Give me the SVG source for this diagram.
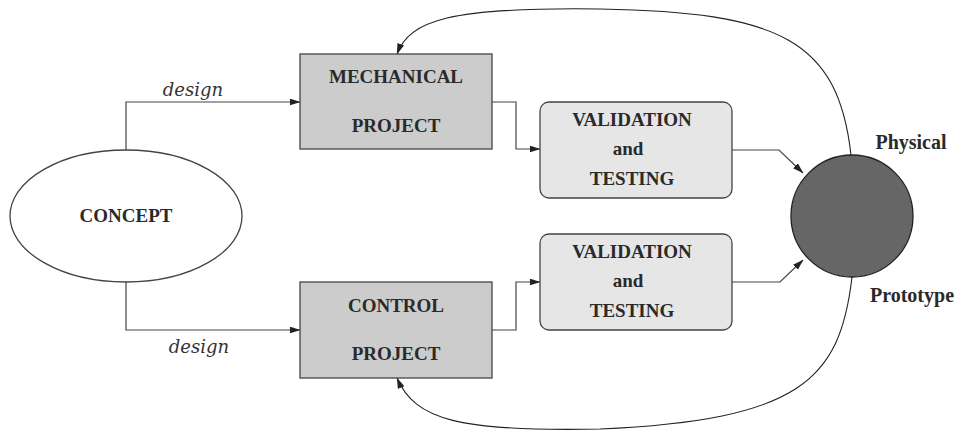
<svg xmlns="http://www.w3.org/2000/svg" width="959" height="434" viewBox="0 0 959 434">
<defs>
<marker id="ah" markerUnits="userSpaceOnUse" markerWidth="11" markerHeight="8" refX="10.5" refY="3.5" orient="auto">
<path d="M0,0 L11,3.5 L0,7 z" fill="#222"/>
</marker>
</defs>
<style>
.lbl{font-family:"Liberation Serif","Times New Roman",serif;font-weight:bold;font-size:19px;fill:#2a2a2a;text-anchor:middle}
.ital{font-family:"DejaVu Serif",serif;font-style:italic;font-size:18px;fill:#333;text-anchor:middle}
.box{stroke:#444;stroke-width:1.3}
.conn{fill:none;stroke:#444;stroke-width:1.2}
.curve{fill:none;stroke:#222;stroke-width:1.1}
</style>
<rect width="959" height="434" fill="#fff"/>
<g id="connectors">
<path class="conn" d="M126 150 V102 H300" marker-end="url(#ah)"/>
<path class="conn" d="M126 282 V330 H300" marker-end="url(#ah)"/>
<path class="conn" d="M492 102 H516 V149 H540" marker-end="url(#ah)"/>
<path class="conn" d="M492 330 H516 V282 H540" marker-end="url(#ah)"/>
<path class="conn" d="M732 150 H779 L803 173" marker-end="url(#ah)"/>
<path class="conn" d="M732 282 H780 L803 260" marker-end="url(#ah)"/>
<path class="curve" d="M851 155 C838 40 780 12 600 9 C450 7 410 20 397 54" marker-end="url(#ah)"/>
<path class="curve" d="M852 277 C840 380 800 420 600 429 C460 432 415 420 397 378" marker-end="url(#ah)"/>
<text class="ital" x="193" y="96">design</text>
<text class="ital" x="199" y="353">design</text>
</g>
<g id="concept">
<ellipse cx="126" cy="216" rx="116" ry="66" fill="#fff" class="box"/>
<text class="lbl" x="126" y="222">CONCEPT</text>
</g>
<g id="mechanical">
<rect x="300" y="54" width="192" height="95" fill="#cccccc" class="box"/>
<text class="lbl" x="396" y="83">MECHANICAL</text>
<text class="lbl" x="396" y="132">PROJECT</text>
</g>
<g id="control">
<rect x="300" y="282" width="192" height="96" fill="#cccccc" class="box"/>
<text class="lbl" x="396" y="312">CONTROL</text>
<text class="lbl" x="396" y="360">PROJECT</text>
</g>
<g id="validation1">
<rect x="540" y="102" width="192" height="96" rx="9" fill="#e6e6e6" class="box"/>
<text class="lbl" x="632" y="126">VALIDATION</text>
<text class="lbl" x="628" y="155">and</text>
<text class="lbl" x="632" y="185">TESTING</text>
</g>
<g id="validation2">
<rect x="540" y="234" width="192" height="96" rx="9" fill="#e6e6e6" class="box"/>
<text class="lbl" x="632" y="258">VALIDATION</text>
<text class="lbl" x="628" y="287">and</text>
<text class="lbl" x="632" y="317">TESTING</text>
</g>
<g id="prototype">
<circle cx="852" cy="216" r="61" fill="#666666" stroke="#222" stroke-width="1.3"/>
<text class="lbl" x="911" y="149" style="font-size:20px">Physical</text>
<text class="lbl" x="912" y="302" style="font-size:20px">Prototype</text>
</g>
</svg>
